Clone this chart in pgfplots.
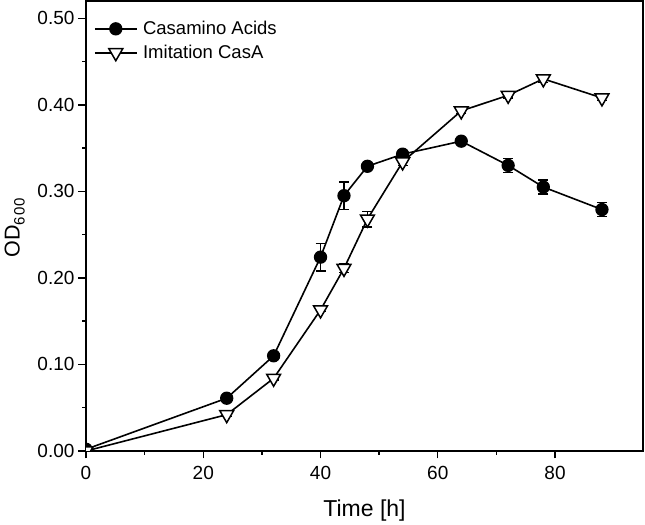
\documentclass[border=0pt]{standalone}
\usepackage{fontspec}
\setmainfont{Liberation Sans}
\usepackage{pgfplots}
\usepackage{pgfplotstable}
\pgfplotsset{compat=1.18}
\pgfplotstableread{
t c ce d de
0 0.002 0 0.000 0
24 0.061 0.002 0.042 0.002
32 0.110 0.002 0.084 0.002
40 0.224 0.016 0.163 0.002
44 0.295 0.016 0.211 0.005
48 0.329 0.003 0.268 0.009
54 0.343 0.003 0.334 0.004
64 0.358 0.003 0.393 0.003
72 0.330 0.008 0.411 0.003
78 0.305 0.008 0.430 0.004
88 0.279 0.008 0.408 0.003
}\growth
\begin{document}
\begin{tikzpicture}
\begin{axis}[
 scale only axis, width=557pt, height=450pt,
 xmin=0, xmax=95, ymin=0, ymax=0.52,
 xtick={0,20,40,60,80}, minor x tick num=1,
 ytick={0,0.1,0.2,0.3,0.4,0.5}, minor y tick num=1,
 xtick pos=bottom, ytick pos=left, tick align=outside,
 major tick length=7.5pt, minor tick length=4pt,
 every tick/.style={black, line width=1.4pt},
 axis line style={line width=1.6pt},
 tick label style={font=\fontsize{19}{22}\selectfont},
 /pgf/number format/assume math mode=true,
 y tick label style={/pgf/number format/.cd, fixed, fixed zerofill, precision=2, /tikz/.cd, xshift=-0.5pt},
 x tick label style={yshift=-3.8pt},
 xlabel={Time [h]}, ylabel={OD\raisebox{-5pt}{\fontsize{15}{15}\selectfont 6\kern1pt0\kern1pt0}},
 every axis x label/.style={at={(axis description cs:0.5,0)}, anchor=base, yshift=-66pt, font=\fontsize{23}{27}\selectfont},
 every axis y label/.style={at={(axis description cs:-0.1095,0.496)}, anchor=south, rotate=90, inner sep=0pt, font=\fontsize{21.5}{26}\selectfont},
 clip marker paths=true,
 legend cell align=left,
 legend style={draw=none, fill=none, at={(axis description cs:0.0086,0.964)}, anchor=north west, row sep=5pt, font=\fontsize{18.5}{22}\selectfont,
   nodes={inner xsep=5.5pt}},
 legend image code/.code={\draw[mark repeat=2,mark phase=2] plot coordinates {(0pt,0pt) (21pt,0pt) (42pt,0pt)};},
 error bars/error bar style={line width=1.4pt, black},
 error bars/error mark options={rotate=90, mark size=5pt, line width=1.4pt, black},
]
\addplot[black, line width=1.6pt, mark=*, mark size=6pt, mark options={fill=black, line width=1.3pt},
  error bars/.cd, y dir=both, y explicit] table[x=t, y=c, y error=ce] {\growth};
\addlegendentry{Casamino Acids}
\addplot[black, line width=1.6pt, mark=triangle*, mark size=8pt, mark options={rotate=180, fill=white, line width=1.5pt},
  error bars/.cd, y dir=both, y explicit] table[x=t, y=d, y error=de] {\growth};
\addlegendentry{Imitation CasA}
\coordinate (SW) at (rel axis cs:0,0);
\coordinate (NE) at (rel axis cs:1,1);
\end{axis}
\pgfresetboundingbox
\path ([shift={(-86pt,-73.3pt)}]SW) rectangle ([shift={(2pt,1pt)}]NE);
\end{tikzpicture}
\end{document}
